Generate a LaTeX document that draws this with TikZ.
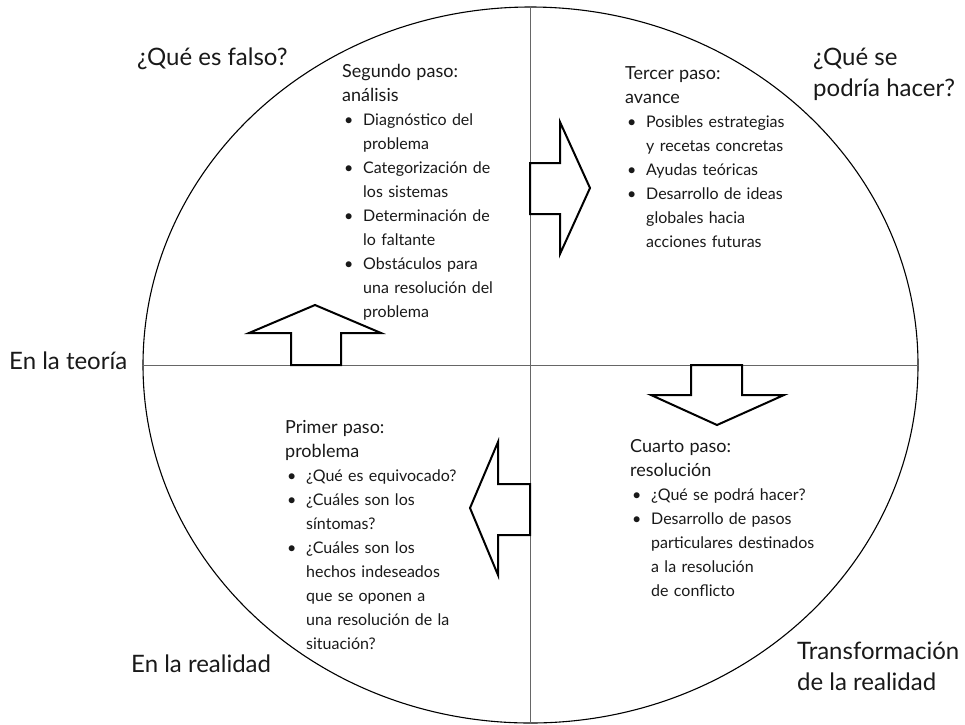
\documentclass[tikz,border=0pt]{standalone}
\usepackage{fontspec}
\setmainfont{Lato}
\usetikzlibrary{shapes.geometric}

% bullet line with hanging indent
\newcommand{\punto}[1]{\par\hangindent=21pt\hangafter=1\noindent\makebox[21pt][l]{\hspace{2pt}\textbullet}#1\par}
\newcommand{\titulo}[1]{{\fontsize{18}{24}\selectfont #1\par}}

\begin{document}
\begin{tikzpicture}[x=1pt,y=-1pt,
	grande/.style={font=\fontsize{24}{31}\selectfont,text=black!90,inner sep=0pt,align=left},
	pasos/.style={text width=220pt,inner sep=0pt,text=black!90,align=left,font=\fontsize{16}{24}\selectfont},
	flecha/.style={draw=black,line width=2pt,fill=white,line join=miter},
	eje/.style={draw=black!60,line width=1pt}]
			\useasboundingbox (0,0) rectangle (965,724);
			\node[ellipse,draw,line width=1.1pt,minimum width=775pt,minimum height=716pt,inner sep=0pt] (rueda) at (530.5,365) {};
			\draw[eje] (rueda.west) -- (rueda.east);
			\draw[eje] (rueda.north) -- (rueda.south);
			% arrows between the steps
			\draw[flecha] (291,365) -- (291,333) -- (249,333) -- (315,305) -- (381,333) -- (341,333) -- (341,365) -- cycle;
			\draw[flecha] (530,163) -- (560,163) -- (560,122) -- (590,188) -- (560,254) -- (560,214) -- (530,214) -- cycle;
			\draw[flecha] (691,365) -- (691,395) -- (651,395) -- (717,425) -- (784,395) -- (742,395) -- (742,365) -- cycle;
			\draw[flecha] (530,484) -- (498,484) -- (498,442) -- (470,508) -- (498,575) -- (498,535) -- (530,535) -- cycle;
			% outer labels (base = last line)
			\node[grande,anchor=base west] (falso) at (137,65) {¿Qué es falso?};
			\node[grande,anchor=base west] (hacer) at (813,96) {¿Qué se\\podría hacer?};
			\node[grande,anchor=base west] (teoria) at (9,369) {En la teoría};
			\node[grande,anchor=base west] (realidad) at (131,672) {En la realidad};
			\node[grande,anchor=base west] (transf) at (797,690) {Transformación\\de la realidad};
			% the four steps
			\node[pasos,anchor=base west] (segundo) at (342,77) {\titulo{Segundo paso:\newline análisis}
				\punto{Diagnóstico del\newline problema}
				\punto{Categorización de\newline los sistemas}
				\punto{Determinación de\newline lo faltante}
				\punto{Obstáculos para\newline una resolución del\newline problema}};
			\node[pasos,anchor=base west] (tercero) at (625,79) {\titulo{Tercer paso:\newline avance}
				\punto{Posibles estrategias\newline y recetas concretas}
				\punto{Ayudas teóricas}
				\punto{Desarrollo de ideas\newline globales hacia\newline acciones futuras}};
			\node[pasos,anchor=base west] (primero) at (285,433) {\titulo{Primer paso:\newline problema}
				\punto{¿Qué es equivocado?}
				\punto{¿Cuáles son los\newline síntomas?}
				\punto{¿Cuáles son los\newline hechos indeseados\newline que se oponen a\newline una resolución de la\newline situación?}};
			\node[pasos,anchor=base west] (cuarto) at (630,452) {\titulo{Cuarto paso:\newline resolución}
				\punto{¿Qué se podrá hacer?}
				\punto{Desarrollo de pasos\newline particulares destinados\newline a la resolución\newline de conflicto}};
\end{tikzpicture}
\end{document}
